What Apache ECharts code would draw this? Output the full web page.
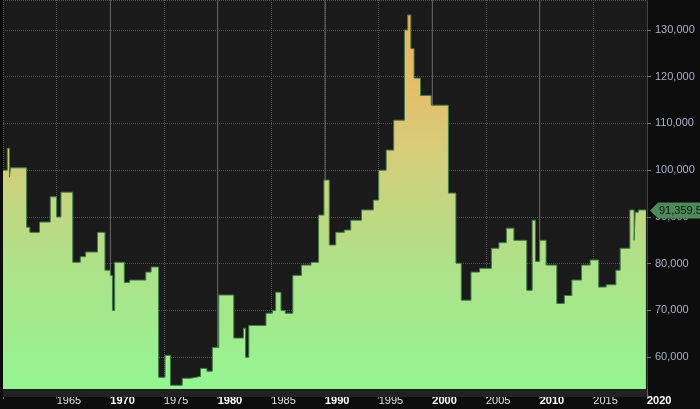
<!DOCTYPE html>
<html>
<head>
<meta charset="utf-8">
<script src="https://cdn.jsdelivr.net/npm/echarts@6/dist/echarts.min.js"></script>
<style>html,body{margin:0;padding:0;background:#0d0d0d;}#c{width:700px;height:409px;}</style>
</head>
<body>
<div id="c"></div>
<script>
// 年份（小数）与数值
var years = [1960.0,1960.4,1960.6,1960.7,1961.3,1962.2,1962.5,1963.4,1964.4,1965.0,1965.4,1965.6,1966.5,1967.2,1967.7,1968.8,1969.5,1970.0,1970.2,1970.4,1971.3,1971.8,1973.3,1973.8,1974.5,1975.1,1975.6,1976.7,1977.5,1978.4,1979.0,1979.5,1980.1,1981.5,1982.4,1982.6,1982.9,1984.5,1985.1,1985.4,1985.9,1986.3,1987.0,1987.8,1988.7,1989.4,1989.9,1990.4,1991.0,1991.8,1992.4,1993.4,1994.5,1995.0,1995.7,1996.4,1997.4,1997.7,1998.0,1998.3,1998.9,1999.9,2001.5,2002.2,2002.7,2003.6,2004.4,2005.5,2006.2,2006.9,2007.6,2008.8,2009.3,2009.6,2010.0,2010.6,2011.6,2012.3,2013.0,2013.9,2014.7,2015.5,2016.2,2017.1,2017.5,2018.4,2018.8,2018.9,2019.2,2019.9];
var values = [100000,104700,98500,100500,100500,87800,86700,88900,94300,90000,95300,95300,80300,81500,82500,86700,78600,77500,70000,80300,76000,76500,78200,79300,55700,60400,54000,55500,55900,57600,57000,62100,73300,64100,66200,60000,66800,69400,70000,73900,70000,69400,77500,79700,80300,90400,97900,84000,86700,87200,89300,91500,93600,100000,104300,110700,130000,133200,126000,119700,116000,113900,95100,80100,72200,78200,79000,83300,84500,87600,85000,74300,89300,80500,85000,79700,71500,73200,76500,79700,80800,75000,75500,78600,83300,91500,85000,91000,91500,91360];
var decades = [1970, 1980, 1990, 2000, 2010];
var lastValue = 91360;
var lastLabel = '91,359.5';

var chart = echarts.init(document.getElementById('c'));
var pts = years.map(function (y, i) { return [y, values[i]]; });

chart.setOption({
  backgroundColor: '#0d0d0d',
  animation: false,
  grid: { left: 3, right: 53, top: 0, bottom: 20, show: true, backgroundColor: '#1a1a1a', borderWidth: 0 },
  xAxis: {
    type: 'value', min: 1960, max: 2020, interval: 5,
    axisLine: { show: false },
    axisTick: { show: true, length: 10, lineStyle: { color: '#666' } },
    axisLabel: {
      color: '#e0e0e0', fontFamily: 'Arial', fontSize: 11, margin: 6, align: 'left',
      formatter: function (v) { return v === 1960 ? '' : (v % 10 === 0 ? '{b|' + v + '}' : '' + v); },
      rich: { b: { fontWeight: 'bold', color: '#ffffff', fontSize: 11 } }
    },
    splitLine: { show: true, lineStyle: { color: '#555', type: 'dotted' } }
  },
  yAxis: {
    type: 'value', position: 'right', min: 53200, max: 136400, splitNumber: 8,
    axisLine: { show: true, lineStyle: { color: '#444' } },
    axisTick: { show: true, length: 4, lineStyle: { color: '#777' } },
    axisLabel: {
      color: '#aab0c8', fontFamily: 'Arial', fontSize: 11, margin: 8,
      showMinLabel: false, showMaxLabel: false,
      formatter: function (v) { return v % 10000 === 0 ? echarts.format.addCommas(v) : ''; }
    },
    splitLine: { show: true, lineStyle: { color: '#555', type: 'dotted' } }
  },
  series: [{
    type: 'line', step: 'end', data: pts, symbol: 'none',
    lineStyle: { color: '#3f7a48', width: 1 },
    areaStyle: {
      opacity: 1,
      color: new echarts.graphic.LinearGradient(0, 0, 0, 1, [
        { offset: 0, color: '#f2ae5c' },
        { offset: 0.35, color: '#d8cc78' },
        { offset: 0.65, color: '#b0e088' },
        { offset: 1, color: '#94f592' }
      ])
    }
  }]
});

// 十年实线、横轴暗条、最新值标签
var g = [];
decades.forEach(function (d) {
  var px = chart.convertToPixel({ gridIndex: 0 }, [d, 136400]);
  g.push({ type: 'line', z: 1, shape: { x1: px[0], y1: 0, x2: px[0], y2: 397 }, style: { stroke: '#666', lineWidth: 1 } });
});
g.push({ type: 'rect', z: 5, shape: { x: 3, y: 389, width: 644, height: 8 }, style: { fill: '#222' } });
var lp = chart.convertToPixel({ gridIndex: 0 }, [2020, lastValue]);
g.push({
  type: 'polygon', z: 10,
  shape: { points: [[lp[0] + 3, lp[1]], [lp[0] + 11, lp[1] - 8], [lp[0] + 53, lp[1] - 8], [lp[0] + 53, lp[1] + 8], [lp[0] + 11, lp[1] + 8]] },
  style: { fill: '#4d8a5a' }
});
g.push({
  type: 'text', z: 11, x: lp[0] + 12, y: lp[1],
  style: { text: lastLabel, fill: '#111', font: '11px Arial', verticalAlign: 'middle' }
});
chart.setOption({ graphic: g });
</script>
</body>
</html>
